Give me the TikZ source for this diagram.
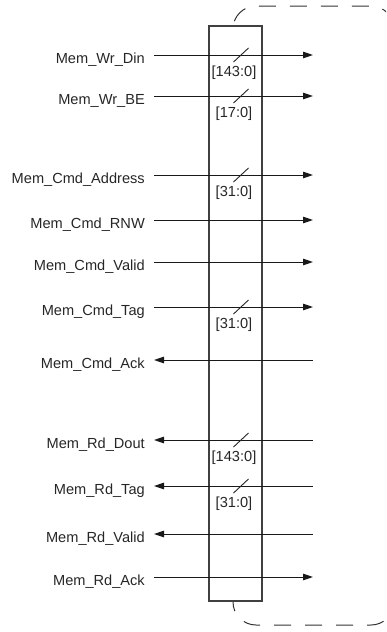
\documentclass[tikz,border=0pt]{standalone}
\usepackage{fontspec}
\setmainfont{Liberation Sans}
\usetikzlibrary{arrows.meta}

\begin{document}
\begin{tikzpicture}[x=1pt,y=-1pt,
  txt/.style={font=\fontsize{14.6}{16}\selectfont, text=black!85, inner sep=0pt},
  sig/.style={txt, anchor=base east},
  buslbl/.style={txt, anchor=center},
  wire/.style={line width=1pt, draw=black!90},
  tip/.style={-{Triangle[length=10pt,width=6.5pt]}},
  slash/.style={line width=0.9pt, draw=black!85},
  blockbox/.style={draw=black!75, line width=1.3pt, fill=white,
    minimum width=53pt, minimum height=575pt, inner sep=0pt},
  outline/.style={draw=black!80, line width=1pt,
    dash pattern=on 17pt off 14pt, rounded corners=23pt}
]
\useasboundingbox (0,0) rectangle (386,632);

% dashed boundary of the neighbouring block (runs off the right edge)
\begin{scope}
  \clip (0,0) rectangle (386,632);
  \draw[outline] (233,300) -- (233,6) -- (394,6) -- (394,625) -- (233,625) -- (233,300);
\end{scope}

% interface block
\node[blockbox] (blk) at (235.5,313.5) {};

% signal names and wire end points
\foreach \i/\y/\name in {
  1/55/Mem\_Wr\_Din,
  2/96/Mem\_Wr\_BE,
  3/175/Mem\_Cmd\_Address,
  4/220/Mem\_Cmd\_RNW,
  5/262/Mem\_Cmd\_Valid,
  6/307/Mem\_Cmd\_Tag,
  7/360/Mem\_Cmd\_Ack,
  8/440/Mem\_Rd\_Dout,
  9/486/Mem\_Rd\_Tag,
  10/534/Mem\_Rd\_Valid,
  11/577/Mem\_Rd\_Ack}{
  \node[sig] (l\i) at (145,\y+8.5) {\name};
  \coordinate (a\i) at (154,\y);
  \coordinate (b\i) at (313,\y);
  \coordinate (s\i) at (241,\y);
}

% outgoing signals
\foreach \i in {1,2,3,4,5,6,11}
  \draw[wire,tip] (a\i) -- (b\i);
% incoming signals
\foreach \i in {7,8,9,10}
  \draw[wire,tip] (b\i) -- (a\i);

% bus width markers
\foreach \i/\bits in {1/{[143:0]}, 2/{[17:0]}, 3/{[31:0]}, 6/{[31:0]}, 8/{[143:0]}, 9/{[31:0]}}{
  \draw[slash] ([shift={(-7.5,7)}]s\i) -- ([shift={(7.5,-7)}]s\i);
  \node[buslbl] (w\i) at ([shift={(-7,18)}]s\i) {\bits};
}
\end{tikzpicture}
\end{document}
